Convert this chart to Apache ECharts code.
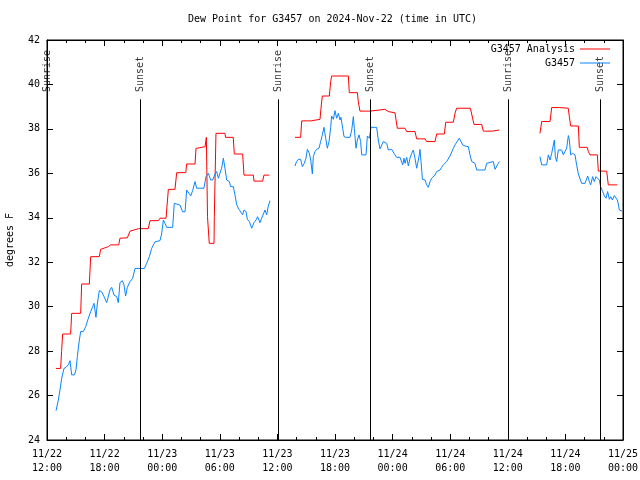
<!DOCTYPE html>
<html>
<head>
<meta charset="utf-8">
<script src="https://cdn.jsdelivr.net/npm/echarts@6/dist/echarts.min.js"></script>
<style>html,body{margin:0;padding:0;background:#fff}#c{width:640px;height:480px}</style>
</head>
<body>
<div id="c"></div>
<script>
// Hours after 2024-11-22 12:00 UTC; null = gap in the record
const analysisHours = [0.94,1.42,1.52,1.63,2.46,2.57,3.51,3.61,4.41,4.55,5.45,5.59,6.39,6.63,7.47,7.6,8.37,8.65,9.55,10.55,10.73,11.6,11.77,12.4,12.64,13.33,13.51,14.45,14.55,15.42,15.52,16.46,16.6,16.7,16.72,16.88,16.9,17.4,17.43,17.58,17.6,18.54,18.6,19.4,19.51,20.38,20.52,21.5,21.56,22.46,22.6,23.16,
  24.5,
  25.83,26.42,26.53,27.47,27.57,28.44,28.54,28.68,29.41,29.55,29.65,31.39,31.49,32.33,32.43,32.6,33.65,33.82,35.2,35.38,35.55,36.25,36.42,36.49,37.29,37.47,38.33,38.51,39.38,39.55,40.42,40.59,41.39,41.53,42.33,42.5,42.67,44.1,44.24,44.48,45.28,45.45,46.42,46.49,47.1,
  49.0,
  51.35,51.53,52.4,52.57,53.37,53.51,54.3,54.41,54.55,55.35,55.45,56.28,56.39,56.56,57.33,57.43,58.3,58.47,59.4];
const analysisDewPoint = [27.22,27.22,27.98,28.77,28.77,29.7,29.7,31.02,31.02,32.25,32.25,32.58,32.7,32.78,32.78,33.08,33.1,33.4,33.51,33.51,33.87,33.87,33.98,33.98,35.28,35.28,36.03,36.03,36.42,36.42,37.12,37.2,37.62,37.62,34.05,34.05,32.85,32.85,34.05,34.05,37.8,37.8,37.62,37.62,36.87,36.87,35.92,35.92,35.65,35.65,35.92,35.92,
  null,
  37.62,37.62,38.36,38.36,38.43,38.43,38.93,39.48,39.48,40.13,40.38,40.38,39.63,39.63,39.22,38.8,38.8,38.85,38.88,38.88,38.78,38.72,38.63,38.03,38.03,37.88,37.88,37.55,37.55,37.43,37.43,37.77,37.77,38.3,38.3,38.7,38.93,38.93,38.88,38.2,38.2,37.9,37.9,37.95,37.95,
  null,
  37.8,38.33,38.33,38.96,38.96,38.93,38.93,38.55,38.13,38.13,37.17,37.17,36.98,36.83,36.83,36.1,36.1,35.48,35.48];

const obsHours = [0.94,1.18,1.35,1.53,1.77,1.98,2.22,2.4,2.57,2.85,3.02,3.16,3.37,3.51,3.78,4.03,4.31,4.55,4.76,4.9,5.1,5.24,5.45,5.69,5.94,6.22,6.39,6.56,6.74,6.98,7.26,7.43,7.6,7.85,8.02,8.19,8.37,8.65,8.92,9.17,10.14,10.38,10.66,10.9,11.25,11.77,11.94,12.12,12.29,12.47,13.09,13.26,13.51,13.85,14.13,14.38,14.55,14.79,14.97,15.17,15.42,15.59,16.35,16.56,16.81,17.05,17.26,17.5,17.67,17.85,18.02,18.19,18.37,18.54,18.72,19.0,19.13,19.41,19.58,19.76,20.0,20.17,20.38,20.52,20.73,20.87,21.08,21.32,21.42,21.56,21.77,21.94,22.19,22.36,22.53,22.71,22.88,23.05,23.23,
  24.5,
  25.83,26.0,26.18,26.42,26.6,26.8,26.98,27.12,27.33,27.47,27.64,27.74,27.92,28.09,28.33,28.51,28.68,28.85,29.03,29.2,29.38,29.55,29.65,29.83,30.0,30.17,30.35,30.52,30.62,30.8,30.94,31.15,31.56,31.74,31.91,32.01,32.19,32.33,32.5,32.67,32.78,33.23,33.37,33.58,33.75,34.34,34.51,
  34.69,34.86,35.03,35.21,35.38,35.56,35.73,35.9,36.08,36.25,36.42,36.77,36.94,37.05,37.19,37.29,37.47,37.64,37.81,37.99,38.16,38.26,38.33,38.51,38.61,38.78,38.85,38.96,39.03,39.1,39.2,39.38,39.55,39.72,39.9,40.07,40.24,40.42,40.59,40.94,41.11,41.28,41.63,41.81,41.98,42.15,42.33,42.5,42.67,42.95,43.09,43.3,43.54,43.89,44.06,44.24,44.58,44.76,45.62,45.8,45.97,46.49,46.67,46.84,47.01,47.12,
  49.0,
  51.35,51.53,52.05,52.22,52.4,52.57,52.74,52.85,52.95,53.09,53.26,53.44,53.61,53.78,53.96,54.13,54.31,54.41,54.55,54.76,55.0,55.17,55.35,55.52,55.69,55.87,56.04,56.15,56.32,56.49,56.63,56.84,57.01,57.19,57.36,57.53,57.67,57.88,58.06,58.23,58.4,58.58,58.72,58.89,59.1,59.27,59.41,59.51,59.62,59.9];
const obsDewPoint = [25.32,25.8,26.25,26.78,27.22,27.27,27.38,27.57,26.93,26.93,27.15,27.75,28.5,28.88,28.88,29.1,29.48,29.78,30.0,30.15,29.52,30.12,30.72,30.67,30.45,30.18,30.15,30.75,30.87,30.52,30.45,30.18,31.08,31.17,30.98,30.48,30.87,31.13,31.27,31.72,31.72,31.95,32.25,32.62,32.92,32.97,33.27,33.9,33.75,33.57,33.57,34.65,34.62,34.57,34.27,34.27,35.25,35.1,34.98,35.22,35.63,35.33,35.33,35.85,36.0,35.7,35.7,35.97,36.08,35.78,35.7,36.23,36.68,36.23,35.7,35.63,35.4,35.4,35.03,34.58,34.38,34.32,34.13,34.35,34.28,33.93,33.83,33.53,33.45,33.78,33.9,34.05,33.78,33.98,34.05,34.35,34.13,34.53,34.77,
  null,
  36.33,36.53,36.63,36.63,36.3,36.45,36.68,37.08,36.9,36.6,35.97,36.75,36.98,37.08,37.13,37.43,37.73,38.07,37.58,37.13,37.43,38.07,38.58,38.43,38.82,38.48,38.7,38.4,38.52,38.03,37.65,37.62,37.62,37.95,38.55,38.03,37.13,37.5,37.73,37.43,36.83,36.83,37.68,37.58,38.07,38.07,37.5,
  37.1,37.13,37.43,37.5,37.35,37.05,36.98,37.08,37.02,36.83,36.72,36.72,36.63,36.38,36.68,36.45,36.72,36.33,36.68,36.9,37.05,36.98,36.68,36.23,36.45,36.83,37.08,36.53,36.15,35.73,35.7,35.7,35.48,35.37,35.63,35.78,35.73,35.93,36.08,36.15,36.27,36.38,36.53,36.6,36.78,36.83,37.13,37.28,37.35,37.58,37.53,37.28,37.23,37.2,36.83,36.53,36.45,36.15,36.15,36.45,36.53,36.53,36.18,36.18,36.45,36.53,
  null,
  36.75,36.38,36.38,36.83,36.6,36.9,36.83,37.5,36.75,36.53,37.05,37.13,37.05,36.83,36.75,37.13,37.7,37.5,36.83,36.9,36.83,36.38,35.97,35.93,35.55,35.48,35.55,35.48,35.88,35.63,35.48,35.85,35.63,35.85,35.8,35.7,35.4,35.18,34.98,34.88,35.18,34.83,34.95,34.8,35.0,34.98,34.8,34.62,34.35,34.3];

const sunEventHours = [0.03, 9.69, 24.08, 33.65, 48.05, 57.6];
const sunEventNames = ['Sunrise', 'Sunset', 'Sunrise', 'Sunset', 'Sunrise', 'Sunset'];
const xTickLabels = ['11/22\n12:00','11/22\n18:00','11/23\n00:00','11/23\n06:00','11/23\n12:00','11/23\n18:00','11/24\n00:00','11/24\n06:00','11/24\n12:00','11/24\n18:00','11/25\n00:00'];
const seriesNames = ['G3457 Analysis', 'G3457'];
const titleText = 'Dew Point for G3457 on 2024-Nov-22 (time in UTC)';
const yAxisTitle = 'degrees F';

const FONT = 'DejaVu Sans Mono';
const pair = (xs, ys) => xs.map((x, i) => [x, ys[i] == null ? '-' : ys[i]]);
const LINE_TOP = 39.33, LABEL_BASE = 39.66;

const chart = echarts.init(document.getElementById('c'), null, {renderer: 'canvas'});
const xBase = {
  type: 'value', min: 0, max: 60, interval: 6,
  splitLine: {show: false},
  axisLine: {show: true, onZero: false, lineStyle: {color: '#000', width: 1}},
  axisTick: {show: true, inside: true, length: 6, lineStyle: {color: '#000'}},
  minorTick: {show: true, splitNumber: 3, length: 3, lineStyle: {color: '#000'}}
};
const yBase = {
  type: 'value', min: 24, max: 42, interval: 2,
  splitLine: {show: false},
  axisLine: {show: true, onZero: false, lineStyle: {color: '#000', width: 1}},
  axisTick: {show: true, inside: true, length: 6, lineStyle: {color: '#000'}}
};
chart.setOption({
  animation: false,
  backgroundColor: '#fff',
  title: {text: titleText, left: 188, top: 14, padding: 0,
    textStyle: {fontFamily: FONT, fontSize: 10, fontWeight: 'normal', color: '#000'}},
  grid: {left: 47, right: 17, top: 40, bottom: 40, containLabel: false, outerBoundsMode: 'none',
    show: true, borderColor: '#000', borderWidth: 1},
  legend: {
    data: seriesNames, orient: 'vertical', right: 30, top: 43, align: 'right',
    icon: 'rect', itemWidth: 30, itemHeight: 1, itemGap: 2, padding: 0,
    textStyle: {fontFamily: FONT, fontSize: 10, color: '#000', lineHeight: 12}
  },
  xAxis: [
    Object.assign({}, xBase, {position: 'bottom',
      axisLabel: {fontFamily: FONT, fontSize: 10, color: '#000', margin: 7, lineHeight: 14,
        formatter: v => xTickLabels[Math.round(v / 6)] || ''}}),
    Object.assign({}, xBase, {position: 'top', axisLabel: {show: false}})
  ],
  yAxis: [
    Object.assign({}, yBase, {position: 'left', name: yAxisTitle, nameLocation: 'middle', nameGap: 32,
      nameTextStyle: {fontFamily: FONT, fontSize: 10, color: '#000'},
      axisLabel: {fontFamily: FONT, fontSize: 10, color: '#000', margin: 7}}),
    Object.assign({}, yBase, {position: 'right', axisLabel: {show: false}})
  ],
  series: [
    {name: seriesNames[0], type: 'line', data: pair(analysisHours, analysisDewPoint),
      symbol: 'none', connectNulls: false, color: '#ff0000',
      lineStyle: {color: '#ff0000', width: 1}, z: 3,
      markLine: {silent: true, symbol: ['none', 'none'], label: {show: false},
        lineStyle: {color: '#000', width: 1, type: 'solid'},
        data: sunEventHours.map(h => [{coord: [h, 24]}, {coord: [h, LINE_TOP]}])}},
    {name: seriesNames[1], type: 'line', data: pair(obsHours, obsDewPoint),
      symbol: 'none', connectNulls: false, color: '#0a84ff',
      lineStyle: {color: '#0a84ff', width: 1}, z: 4},
    {name: 'sun', type: 'scatter', silent: true, symbolSize: 0,
      data: sunEventHours.map((h, i) => ({value: [h, LABEL_BASE], name: sunEventNames[i]})),
      label: {show: true, position: [0, 0], rotate: 90, align: 'left', verticalAlign: 'middle',
        formatter: p => p.name, fontFamily: FONT, fontSize: 10, color: '#000'}}
  ]
});
</script>
</body>
</html>
